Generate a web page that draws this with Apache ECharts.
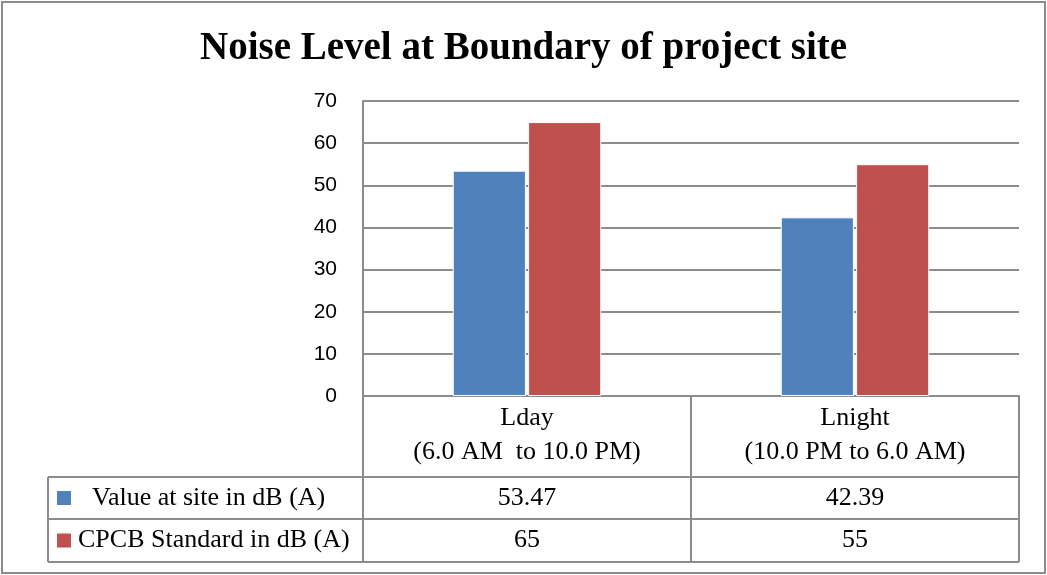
<!DOCTYPE html>
<html lang="en">
<head>
    <meta charset="UTF-8">
    <title>Noise Level at Boundary of project site</title>
    <script src="https://cdn.jsdelivr.net/npm/echarts@6/dist/echarts.min.js"></script>
    <style>
        html, body { margin: 0; padding: 0; background: #fff; }
        #chart { width: 1047px; height: 575px; }
    </style>
</head>
<body>
    <div id="chart"></div>
    <script>
        // data
        var categories = ['Lday', 'Lnight'];
        var periods = ['(6.0 AM  to 10.0 PM)', '(10.0 PM to 6.0 AM)'];
        var seriesNames = ['Value at site in dB (A)', 'CPCB Standard in dB (A)'];
        var siteValues = [53.47, 42.39];
        var cpcbValues = [65, 55];
        var yTicks = [0, 10, 20, 30, 40, 50, 60, 70];

        var colors = ['#4F81BD', '#C0504D'];
        var lineColor = '#8C8C8C';
        var serif = '"Liberation Serif", "DejaVu Serif", serif';

        var chart = echarts.init(document.getElementById('chart'));

        var gridLeft = 363, gridRight = 1019, gridTop = 101, gridBottom = 396;
        var rowLines = [477, 519, 562];
        var tableLeft = 48;

        var option = {
            animation: false,
            title: {
                text: 'Noise Level at Boundary of project site',
                left: 'center',
                top: 24,
                textStyle: { fontFamily: serif, fontWeight: 'bold', fontSize: 39, color: '#000' }
            },
            grid: { left: gridLeft, right: 1047 - gridRight, top: gridTop, bottom: 575 - gridBottom },
            xAxis: {
                type: 'category',
                data: categories,
                axisLine: { lineStyle: { color: lineColor, width: 2 } },
                axisTick: { show: true, length: rowLines[2] - gridBottom, lineStyle: { color: lineColor, width: 2 } },
                axisLabel: { show: false }
            },
            yAxis: {
                type: 'value',
                min: yTicks[0],
                max: yTicks[yTicks.length - 1],
                interval: 10,
                axisLine: { show: true, lineStyle: { color: lineColor, width: 2 } },
                axisTick: { show: false },
                axisLabel: { fontFamily: '"Liberation Sans", Arial, sans-serif', fontSize: 21, color: '#000', margin: 26 },
                splitLine: { lineStyle: { color: lineColor, width: 2 } }
            },
            series: [
                {
                    name: seriesNames[0], type: 'bar', data: siteValues,
                    barWidth: '22.3%', barGap: '3%',
                    itemStyle: { color: colors[0], borderColor: '#fff', borderWidth: 1 }
                },
                {
                    name: seriesNames[1], type: 'bar', data: cpcbValues,
                    barWidth: '22.3%', barGap: '3%',
                    itemStyle: { color: colors[1], borderColor: '#fff', borderWidth: 1 }
                }
            ]
        };
        chart.setOption(option);

        // data table under the axis
        var g = [];
        g.push({ type: 'rect', shape: { x: 2, y: 2, width: 1043, height: 571 },
            style: { fill: 'none', stroke: '#8C8C8C', lineWidth: 2 }, silent: true });
        rowLines.forEach(function (y) {
            g.push({ type: 'line', shape: { x1: tableLeft, y1: y, x2: gridRight, y2: y },
                style: { stroke: lineColor, lineWidth: 2 } });
        });
        g.push({ type: 'line', shape: { x1: tableLeft, y1: rowLines[0], x2: tableLeft, y2: rowLines[2] },
            style: { stroke: lineColor, lineWidth: 2 } });
        g.push({ type: 'line', shape: { x1: gridLeft, y1: gridBottom, x2: gridLeft, y2: rowLines[2] },
            style: { stroke: lineColor, lineWidth: 2 } });

        var tFont = { fontFamily: serif, fontSize: 26, fill: '#000' };
        var rows = [siteValues, cpcbValues];
        categories.forEach(function (c, i) {
            var cx = chart.convertToPixel({ xAxisIndex: 0 }, c);
            g.push({ type: 'text', x: cx, y: 418, style: Object.assign({ text: c, align: 'center', verticalAlign: 'middle' }, tFont) });
            g.push({ type: 'text', x: cx, y: 452, style: Object.assign({ text: periods[i], align: 'center', verticalAlign: 'middle' }, tFont) });
            rows.forEach(function (arr, r) {
                var cy = (rowLines[r] + rowLines[r + 1]) / 2;
                g.push({ type: 'text', x: cx, y: cy, style: Object.assign({ text: String(arr[i]), align: 'center', verticalAlign: 'middle' }, tFont) });
            });
        });
        seriesNames.forEach(function (name, r) {
            var cy = (rowLines[r] + rowLines[r + 1]) / 2;
            g.push({ type: 'rect', shape: { x: 57, y: cy - 7, width: 14, height: 14 }, style: { fill: colors[r] } });
            g.push({ type: 'text', x: r === 0 ? 92 : 78, y: cy, style: Object.assign({ text: name, align: 'left', verticalAlign: 'middle' }, tFont) });
        });
        chart.setOption({ graphic: g });
    </script>
</body>
</html>
